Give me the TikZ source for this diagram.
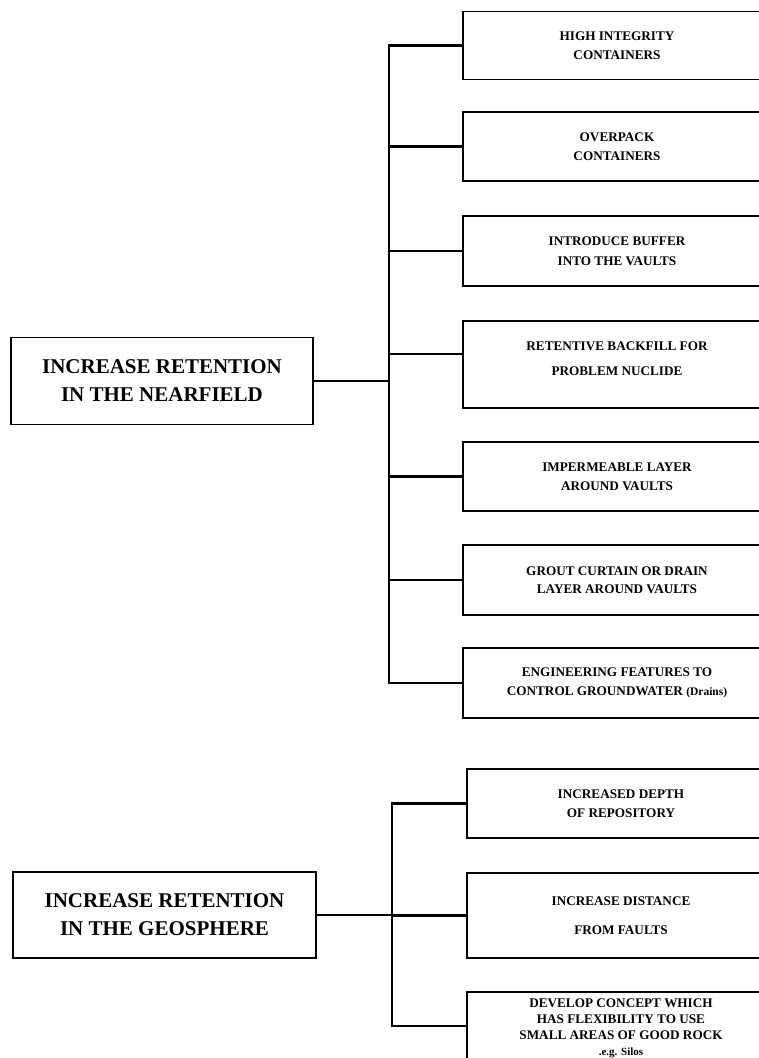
\documentclass[tikz,border=0pt]{standalone}
\usepackage{fontspec}
\setmainfont{Liberation Serif}
\usetikzlibrary{positioning}

\begin{document}
\begin{tikzpicture}[x=1pt, y=-1pt,
  leaf/.style = {draw, line width=1.4pt, minimum width=308pt, minimum height=69pt, align=center, font=\fontsize{13.2}{18.5}\selectfont\bfseries},
  root/.style = {draw, line width=1.4pt, minimum width=302pt, minimum height=87pt, align=center, font=\fontsize{21}{28}\selectfont\bfseries},
  link/.style = {line width=2.9pt}]
\useasboundingbox (0,0) rectangle (759,1058);

% nearfield
\node[root] (nf) at (162,381) {INCREASE RETENTION\\IN THE NEARFIELD};
\node[leaf, minimum height=68pt] (n1) at (617,45.5) {HIGH INTEGRITY\\CONTAINERS};
\node[leaf] (n2) at (617,146.5) {OVERPACK\\CONTAINERS};
\node[leaf, minimum height=70pt] (n3) at (617,251) {INTRODUCE BUFFER\\[2pt]INTO THE VAULTS};
\node[leaf, minimum height=87pt] (n4) at (617,364.5) {RETENTIVE BACKFILL FOR\\[6pt]PROBLEM NUCLIDE\\[-6.5pt]\mbox{}};
\node[leaf] (n5) at (617,476.5) {IMPERMEABLE LAYER\\AROUND VAULTS};
\node[leaf, minimum height=70pt] (n6) at (617,580) {GROUT CURTAIN OR DRAIN\\LAYER AROUND VAULTS};
\node[leaf, minimum height=70pt] (n7) at (617,683) {ENGINEERING FEATURES TO\\CONTROL GROUNDWATER {\fontsize{11.5}{12}\selectfont(Drains)}};

\coordinate (nbus) at (389,0);
\draw[link] (nf.east) -- (nf.east -| nbus);
\draw[link] (n1.west) -- (nbus |- n1.west) -- (nbus |- n7.west) -- (n7.west);
\foreach \i in {2,3,5,6,7}
  \draw[link] (nbus |- n\i.west) -- (n\i.west);
\draw[link] ([yshift=10.5pt]n4.west -| nbus) -- ([yshift=10.5pt]n4.west);

% geosphere
\node[root, minimum width=303pt, minimum height=86pt] (gs) at (164.5,915) {INCREASE RETENTION\\IN THE GEOSPHERE};
\node[leaf] (g1) at (621,803.5) {INCREASED DEPTH\\OF REPOSITORY};
\node[leaf, minimum height=85pt] (g2) at (621,915.5) {INCREASE DISTANCE\\[10pt]FROM FAULTS};
\node[leaf, minimum height=82pt, font=\fontsize{13.2}{15.8}\selectfont\bfseries] (g3) at (621,1033) {DEVELOP CONCEPT WHICH\\HAS FLEXIBILITY TO USE\\SMALL AREAS OF GOOD ROCK\\{\fontsize{11}{12}\selectfont .e.g. Silos}\\[-4pt]\mbox{}};

\coordinate (gbus) at (392,0);
\draw[link] (gs.east) -- (gs.east -| gbus);
\draw[link] (g1.west) -- (gbus |- g1.west) -- ([yshift=7pt]gbus |- g3.west) -- ([yshift=7pt]g3.west);
\draw[link] (gbus |- g2.west) -- (g2.west);
\end{tikzpicture}
\end{document}
